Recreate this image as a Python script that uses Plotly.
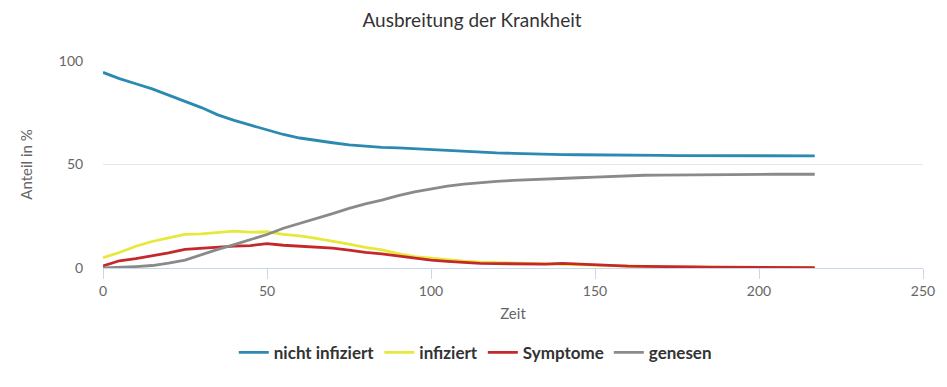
import plotly.graph_objects as go

zeit = [0, 5, 10, 15, 20, 25, 30, 35, 40, 45, 50, 55, 60, 65, 70, 75, 80, 85, 90, 95,
        100, 105, 110, 115, 120, 125, 130, 135, 140, 145, 150, 155, 160, 165, 170, 175,
        180, 185, 190, 195, 200, 205, 210, 215, 217]

nicht_infiziert = [94.5, 91.5, 89.0, 86.5, 83.5, 80.5, 77.5, 74.0, 71.3, 69.0, 66.6, 64.5,
                   62.8, 61.5, 60.5, 59.5, 58.8, 58.3, 58.0, 57.6, 57.2, 56.6, 56.3, 56.0,
                   55.6, 55.4, 55.1, 54.9, 54.8, 54.7, 54.7, 54.6, 54.5, 54.4, 54.4, 54.3,
                   54.3, 54.3, 54.3, 54.3, 54.3, 54.3, 54.3, 54.2, 54.2]

infiziert = [5.0, 7.5, 10.5, 12.8, 14.5, 16.2, 16.5, 17.0, 17.8, 17.3, 17.5, 16.2, 15.5,
             14.3, 13.0, 11.5, 10.0, 8.8, 7.0, 5.5, 4.8, 4.0, 3.3, 2.8, 2.6, 2.4, 2.2, 2.0,
             1.8, 1.6, 1.3, 1.0, 0.8, 0.7, 0.5, 0.4, 0.4, 0.3, 0.3, 0.3, 0.3, 0.3, 0.2, 0.2, 0.2]

symptome = [1.0, 3.5, 4.5, 5.8, 7.3, 9.0, 9.5, 10.2, 10.6, 10.8, 11.8, 11.0, 10.6, 10.0,
            9.6, 8.6, 7.5, 6.8, 5.8, 4.5, 3.8, 3.2, 2.6, 2.2, 2.1, 2.0, 2.0, 1.9, 2.2, 1.8,
            1.6, 1.2, 0.9, 0.8, 0.6, 0.5, 0.5, 0.4, 0.4, 0.4, 0.3, 0.3, 0.3, 0.2, 0.2]

genesen = [0.0, 0.2, 0.7, 1.2, 2.3, 3.8, 6.5, 9.0, 11.3, 13.8, 16.2, 19.2, 21.5, 24.0,
           26.3, 28.8, 31.0, 32.8, 35.0, 36.8, 38.2, 39.5, 40.5, 41.3, 41.8, 42.3, 42.7,
           43.0, 43.3, 43.6, 43.9, 44.3, 44.6, 44.8, 44.9, 45.0, 45.1, 45.1, 45.2, 45.2,
           45.2, 45.3, 45.3, 45.3, 45.3]

series = [
    ("nicht infiziert", nicht_infiziert, "#2b89b2"),
    ("infiziert", infiziert, "#e8e83c"),
    ("Symptome", symptome, "#c4282b"),
    ("genesen", genesen, "#8a8a8a"),
]

FONT = "Lato, 'Open Sans', sans-serif"

fig = go.Figure()
for name, vals, color in series:
    fig.add_trace(go.Scatter(x=zeit, y=vals, name=name, mode="lines",
                             line=dict(color=color, width=2.8)))

fig.update_layout(
    width=947, height=387,
    margin=dict(l=95, r=32, t=53, b=127, autoexpand=False),
    paper_bgcolor="white", plot_bgcolor="white",
    font=dict(family=FONT, color="#666666", size=12),
    title=dict(text="Ausbreitung der Krankheit", x=0.49, xanchor="center",
               xref="container", y=0.969, yanchor="middle",
               font=dict(family=FONT, size=19, color="#333333")),
    showlegend=True,
    legend=dict(orientation="h", x=0.454, xanchor="center",
                y=-0.41, yanchor="middle",
                font=dict(family=FONT, size=17, color="#333333", weight="bold"),
                itemwidth=30, traceorder="normal"),
    xaxis=dict(range=[0, 250], tickvals=[0, 50, 100, 150, 200, 250],
               showgrid=False, zeroline=False, showline=True, linecolor="#ccd6eb",
               linewidth=1, ticks="outside", ticklen=10, tickcolor="#ccd6eb",
               automargin=False,
               tickfont=dict(size=14, color="#666666"),
               title=dict(text="Zeit", font=dict(size=15, color="#666666"), standoff=10)),
    yaxis=dict(range=[0, 100], tickvals=[0, 50, 100], showgrid=True,
               gridcolor="#e6e6e6", gridwidth=1, zeroline=False, showline=False,
               ticks="outside", ticklen=16, tickcolor="rgba(0,0,0,0)",
               automargin=False,
               tickfont=dict(size=14, color="#666666"),
               title=dict(text="Anteil in %", font=dict(size=15, color="#666666"),
                          standoff=22)),
)

fig.write_html("out.html")
